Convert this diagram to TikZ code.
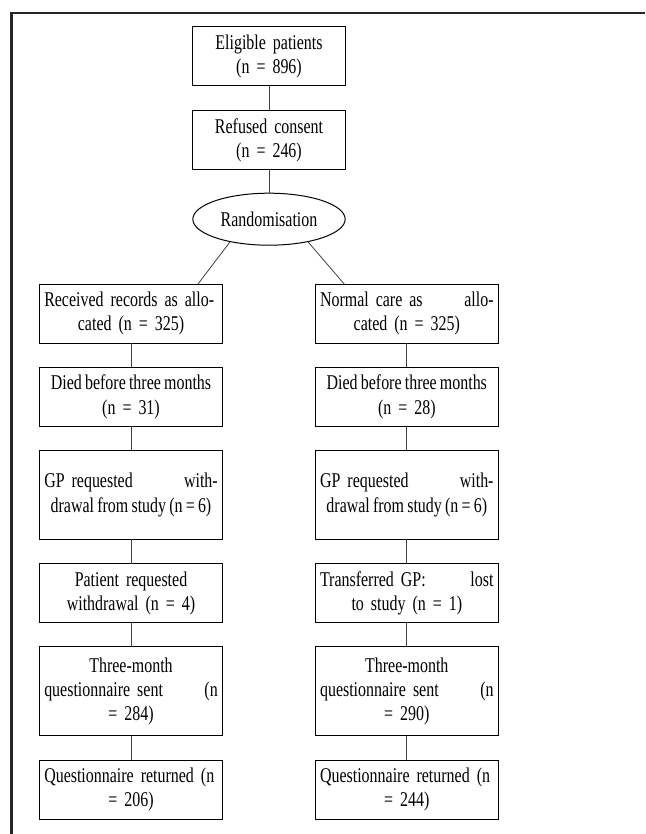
\documentclass[tikz,border=0pt]{standalone}
\usepackage{fontspec}
\setmainfont{Liberation Serif}[FakeStretch=0.76]
\usepackage{tikz}
\usetikzlibrary{positioning,calc,shapes.geometric}
\tikzstyle{stage} = [draw, line width=1pt, rectangle, outer sep=0pt, text width=173.5pt, inner xsep=4.55pt, inner ysep=0pt, align=center, minimum height=59pt, font=\fontsize{21}{24.3}\selectfont]
\tikzstyle{tallstage} = [stage, minimum height=89pt]
\tikzstyle{topstage} = [stage, text width=143.2pt]
\tikzstyle{randoval} = [draw, line width=1pt, ellipse, outer sep=0pt, inner sep=0pt, minimum width=152.3pt, minimum height=52pt, font=\fontsize{21}{24.3}\selectfont]
\tikzstyle{link} = [line width=0.8pt, black!75]
\newcommand{\fullline}[1]{\makebox[\hsize][s]{#1}}
\newcommand{\midline}[1]{\makebox[\hsize][c]{\spaceskip=3.2pt\relax #1}}

\begin{document}
\begin{tikzpicture}[x=1pt,y=-1pt]
	\useasboundingbox (0,0) rectangle (645,834);
	\draw[line width=2.5pt, black!85] (11.5,834) -- (11.5,12.8) -- (645,12.8);

	\node[topstage] (eligible) at (269,56.5) {Eligible patients\\(n = 896)};
	\node[topstage, below=24.5pt of eligible] (refused) {Refused consent\\(n = 246)};
	\node[randoval, below=23.7pt of refused] (random) {Randomisation};

	% records arm
	\node[stage] (recvd) at (131,313.5) {\fullline{Received records as allo-}\\cated (n = 325)};
	\node[stage, below=24.2pt of recvd] (diedl) {\midline{Died before three months}\\(n = 31)};
	\node[tallstage, below=24.2pt of diedl] (gpl) {\fullline{GP requested\hfill with-}\\\midline{drawal from study (n = 6)}};
	\node[stage, below=24.2pt of gpl] (patl) {Patient requested\\withdrawal (n = 4)};
	\node[tallstage, below=24.2pt of patl] (sentl) {Three-month\\\fullline{questionnaire sent\hfill (n}\\= 284)};
	\node[stage, below=24.2pt of sentl] (backl) {\fullline{Questionnaire returned (n}\\= 206)};

	% normal care arm
	\node[stage] (normal) at (406.8,313.5) {\fullline{Normal care as\hfill allo-}\\cated (n = 325)};
	\node[stage, below=24.2pt of normal] (diedr) {\midline{Died before three months}\\(n = 28)};
	\node[tallstage, below=24.2pt of diedr] (gpr) {\fullline{GP requested\hfill with-}\\\midline{drawal from study (n = 6)}};
	\node[stage, below=24.2pt of gpr] (transr) {\fullline{Transferred GP:\hfill lost}\\to study (n = 1)};
	\node[tallstage, below=24.2pt of transr] (sentr) {Three-month\\\fullline{questionnaire sent\hfill (n}\\= 290)};
	\node[stage, below=24.2pt of sentr] (backr) {\fullline{Questionnaire returned (n}\\= 244)};

	\draw[link] (eligible) -- (refused);
	\draw[link] (refused) -- (random);
	\draw[link] (random.210) -- ($(recvd.north east)+(-24.3,0)$);
	\draw[link] (random.330) -- ($(normal.north west)+(28.7,0)$);
	\draw[link] (recvd) -- (diedl);
	\draw[link] (diedl) -- (gpl);
	\draw[link] (gpl) -- (patl);
	\draw[link] (patl) -- (sentl);
	\draw[link] (sentl) -- (backl);
	\draw[link] (normal) -- (diedr);
	\draw[link] (diedr) -- (gpr);
	\draw[link] (gpr) -- (transr);
	\draw[link] (transr) -- (sentr);
	\draw[link] (sentr) -- (backr);
\end{tikzpicture}
\end{document}
